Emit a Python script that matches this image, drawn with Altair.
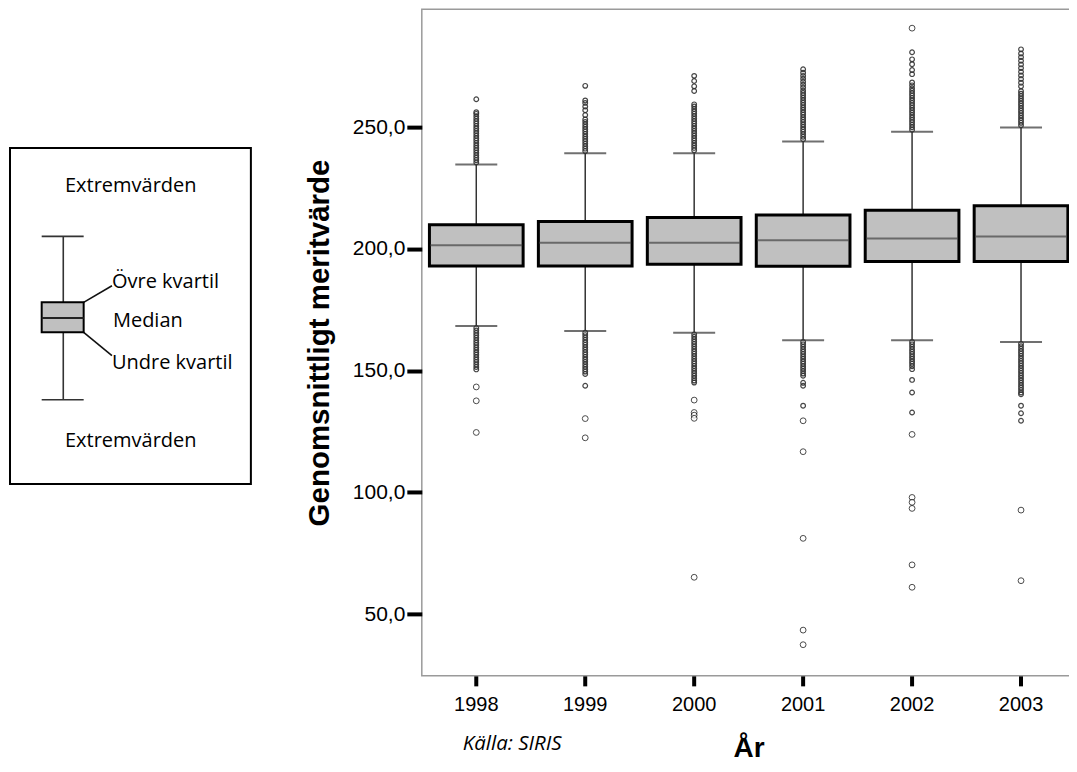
import altair as alt
import pandas as pd

# ---------------- data ----------------
years = ["1998", "1999", "2000", "2001", "2002", "2003"]
whisker_low = [168.3, 166.3, 165.6, 162.5, 162.5, 161.8]
q1 = [193.0, 193.0, 193.7, 192.9, 194.8, 194.8]
median = [201.5, 202.5, 202.5, 203.6, 204.3, 205.1]
q3 = [209.9, 211.3, 212.9, 213.9, 215.9, 217.7]
whisker_high = [234.7, 239.3, 239.3, 244.1, 248.1, 249.9]

# isolated outliers (open circles)
outliers_1998 = [143.3, 137.6, 124.6]
outliers_1999 = [130.3, 122.4]
outliers_2000 = [137.9, 132.8, 131.7, 130.4, 65.1]
outliers_2001 = [129.4, 116.7, 81.1, 43.4, 37.4]
outliers_2002 = [290.7, 123.8, 97.9, 95.9, 93.4, 70.2, 61.0]
outliers_2003 = [92.7, 63.7]

# densely packed outlier / extreme markers next to the whiskers
dense_1998 = [235.5, 236.5, 237.5, 238.5, 239.5, 240.5, 241.5, 242.5, 243.5, 244.5,
              245.5, 246.5, 247.5, 248.5, 249.5, 250.5, 251.5, 252.5, 253.5, 254.5,
              255.5, 256.2, 261.5,
              167.5, 166.5, 165.5, 164.5, 163.5, 162.5, 161.5, 160.5, 159.5, 158.5,
              157.5, 156.5, 155.5, 154.5, 153.5, 152.5, 151.5, 150.5]
dense_1999 = [240.2, 241.2, 242.2, 243.2, 244.2, 245.2, 246.2, 247.2, 248.2, 249.2,
              250.2, 251.2, 252.2, 253.2, 255.0, 257.0, 258.5, 260.0, 261.0, 267.0,
              165.6, 164.6, 163.6, 162.6, 161.6, 160.6, 159.6, 158.6, 157.6, 156.6,
              155.6, 154.6, 153.6, 152.6, 151.6, 150.6, 149.6, 148.6, 143.8]
dense_2000 = [240.5, 241.5, 242.5, 243.5, 244.5, 245.5, 246.5, 247.5, 248.5, 249.5,
              250.5, 251.5, 252.5, 253.5, 254.5, 255.5, 256.5, 257.5, 258.5, 259.4,
              264.9, 266.8, 269.0, 271.1,
              164.9, 163.9, 162.9, 161.9, 160.9, 159.9, 158.9, 157.9, 156.9, 155.9,
              154.9, 153.9, 152.9, 151.9, 150.9, 149.9, 148.9, 147.9, 146.9, 145.9, 145.1]
dense_2001 = [245.1, 246.1, 247.1, 248.1, 249.1, 250.1, 251.1, 252.1, 253.1, 254.1,
              255.1, 256.1, 257.1, 258.1, 259.1, 260.1, 261.1, 262.1, 263.1, 264.1,
              265.1, 266.3, 267.5, 268.7, 269.9, 271.1, 272.4, 273.8,
              161.8, 160.8, 159.8, 158.8, 157.8, 156.8, 155.8, 154.8, 153.8, 152.8,
              151.8, 150.8, 149.8, 148.8, 147.9, 145.0, 143.8, 135.6]
dense_2002 = [249.0, 250.0, 251.0, 252.0, 253.0, 254.0, 255.0, 256.0, 257.0, 258.0,
              259.0, 260.0, 261.0, 262.0, 263.0, 264.0, 265.0, 266.0, 267.2, 268.4,
              271.8, 273.5, 275.9, 277.9, 280.8,
              161.8, 160.8, 159.8, 158.8, 157.8, 156.8, 155.8, 154.8, 153.8, 152.8,
              151.8, 150.6, 146.2, 141.0, 132.8]
dense_2003 = [250.8, 251.8, 252.8, 253.8, 254.8, 255.8, 256.8, 257.8, 258.8, 259.8,
              260.8, 261.8, 262.8, 263.8, 264.8, 266.8, 268.3, 269.8, 271.3, 272.8,
              274.3, 275.8, 277.3, 278.8, 280.3, 282.0,
              161.0, 160.0, 159.0, 158.0, 157.0, 156.0, 155.0, 154.0, 153.0, 152.0,
              151.0, 150.0, 149.0, 148.0, 147.0, 146.0, 145.0, 144.0, 143.0, 142.0,
              141.0, 140.3, 135.6, 132.5, 129.4]

y_ticks = [50, 100, 150, 200, 250]
y_domain = [24.6, 298.5]

# ---------------- tables ----------------
box_df = pd.DataFrame({"year": years, "lo": whisker_low, "q1": q1, "med": median,
                       "q3": q3, "hi": whisker_high})
outl = {"1998": outliers_1998, "1999": outliers_1999, "2000": outliers_2000,
        "2001": outliers_2001, "2002": outliers_2002, "2003": outliers_2003}
dens = {"1998": dense_1998, "1999": dense_1999, "2000": dense_2000,
        "2001": dense_2001, "2002": dense_2002, "2003": dense_2003}
out_df = pd.DataFrame([{"year": y, "v": v} for y in years for v in outl[y]])
dense_df = pd.DataFrame([{"year": y, "v": v} for y in years for v in dens[y]])

FONT = "Liberation Sans"
W, H = 654, 667
BAND = 0.86

x_enc = alt.X("year:N", scale=alt.Scale(domain=years, paddingInner=0, paddingOuter=0),
              axis=alt.Axis(title="År", labelAngle=0, tickSize=10, tickWidth=4,
                            tickColor="black", domain=False, labelFontSize=20,
                            labelFont=FONT, labelColor="black", labelPadding=9,
                            titleFont=FONT, titleFontSize=28, titleFontWeight="bold",
                            titleColor="black", titlePadding=20))
y_scale = alt.Scale(domain=y_domain, nice=False, zero=False)
y_axis = alt.Axis(title="Genomsnittligt meritvärde", values=y_ticks,
                  labelExpr="replace(format(datum.value, '.1f'), '.', ',')",
                  tickSize=15, tickWidth=4, tickColor="black", domain=False, grid=False,
                  labelFontSize=21, labelFont=FONT, labelColor="black", labelPadding=2,
                  titleFont=FONT, titleFontSize=29.5, titleFontWeight="bold",
                  titleColor="black", titlePadding=18)

base = alt.Chart(box_df).encode(x=x_enc)

whisk_up = base.mark_rule(color="#333", strokeWidth=1.5).encode(
    y=alt.Y("q3:Q", scale=y_scale, axis=y_axis), y2="hi:Q")
whisk_dn = base.mark_rule(color="#333", strokeWidth=1.5).encode(y="lo:Q", y2="q1:Q")
cap_hi = base.mark_tick(size=42, thickness=2, color="#333").encode(y="hi:Q")
cap_lo = base.mark_tick(size=42, thickness=2, color="#333").encode(y="lo:Q")
boxes = base.mark_bar(width=alt.RelativeBandSize(BAND), fill="#c0c0c0",
                      stroke="black", strokeWidth=3).encode(y="q1:Q", y2="q3:Q")
meds = base.mark_tick(size=92, thickness=2, color="#444").encode(y="med:Q")

dense = alt.Chart(dense_df).mark_point(shape="circle", filled=False,
                                       stroke="#333", strokeWidth=1.2, size=22,
                                       opacity=0.9).encode(
    x=alt.X("year:N"), y=alt.Y("v:Q"))
circles = alt.Chart(out_df).mark_point(shape="circle", filled=True, fill="white",
                                       stroke="black", strokeWidth=1, size=34).encode(
    x=alt.X("year:N"), y=alt.Y("v:Q"))

source = alt.Chart(pd.DataFrame({"t": ["Källa: SIRIS"]})).mark_text(
    font="Open Sans", fontStyle="italic", fontSize=20.5, align="left",
    baseline="alphabetic", color="black").encode(
    x=alt.value(41), y=alt.value(741), text="t:N")

main = alt.layer(whisk_up, whisk_dn, cap_hi, cap_lo, boxes, meds, dense, circles,
                 source).properties(width=W, height=H)

# ---------------- explanatory legend panel ----------------
LW = 244
leg_frame = pd.DataFrame({"x": [1], "x2": [242], "y": [139], "y2": [475]})
leg_box = pd.DataFrame({"x": [32.7], "x2": [74.7], "y": [293.3], "y2": [323.3]})
leg_rules = pd.DataFrame({
    "x":  [54.3, 32.7, 32.7, 74.7, 74.7],
    "x2": [54.3, 74.7, 74.7, 103.0, 103.0],
    "y":  [227.3, 227.3, 390.7, 293.3, 323.3],
    "y2": [390.7, 227.3, 390.7, 276.7, 346.7],
    "c":  ["#333", "#333", "#333", "#111", "#111"]})
leg_text = pd.DataFrame({
    "t": ["Extremvärden", "Övre kvartil", "Median", "Undre kvartil", "Extremvärden"],
    "x": [56, 103, 104, 103, 56],
    "y": [183.3, 279, 318.3, 360, 438.3]})

lx = alt.Scale(domain=[0, LW], nice=False, zero=False)
ly = alt.Scale(domain=[0, H], nice=False, zero=False, reverse=True)

lf = alt.Chart(leg_frame).mark_rect(fill="white", stroke="black", strokeWidth=2).encode(
    x=alt.X("x:Q", scale=lx, axis=None), x2="x2:Q",
    y=alt.Y("y:Q", scale=ly, axis=None), y2="y2:Q")
lr = alt.Chart(leg_rules).mark_rule(strokeWidth=1.6).encode(
    x="x:Q", x2="x2:Q", y="y:Q", y2="y2:Q", color=alt.Color("c:N", scale=None))
lb = alt.Chart(leg_box).mark_rect(fill="#c0c0c0", stroke="black", strokeWidth=2).encode(
    x="x:Q", x2="x2:Q", y="y:Q", y2="y2:Q")
lmed = alt.Chart(pd.DataFrame({"x": [32.7], "x2": [74.7], "y": [309.0]})).mark_rule(
    color="#222", strokeWidth=2).encode(x="x:Q", x2="x2:Q", y="y:Q")
lt = alt.Chart(leg_text).mark_text(font="Open Sans", fontSize=20, align="left",
                                   baseline="alphabetic", color="black").encode(
    x="x:Q", y="y:Q", text="t:N")

legend = alt.layer(lf, lr, lb, lmed, lt).properties(
    width=LW, height=H, view=alt.ViewBackground(stroke="transparent"))

chart = alt.hconcat(legend, main, spacing=49).resolve_scale(
    x="independent", y="independent").configure_view(
    stroke="#9a9a9a", strokeWidth=1.5).properties(
    padding={"left": 0, "top": 0, "right": -7.5, "bottom": 0}, background="white")

chart.save("out.html", embed_options={"renderer": "svg", "actions": False})
